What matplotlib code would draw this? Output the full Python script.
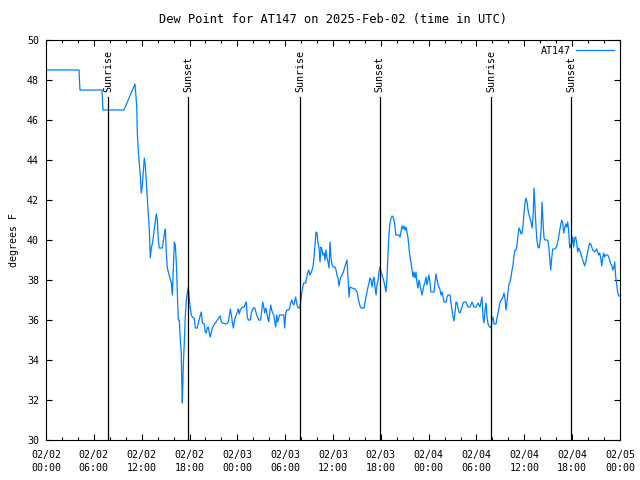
import numpy as np
import matplotlib
matplotlib.use("Agg")
import matplotlib.pyplot as plt
from matplotlib.ticker import MultipleLocator

# hours since 2025-02-02 00:00 UTC
hours = [0.0, 4.14, 4.26, 7.02, 7.15, 9.78, 11.16, 11.38, 11.45, 11.58, 11.70, 11.83,
         11.95, 12.08, 12.33, 12.46, 12.58, 12.71, 12.83, 12.96, 13.08, 13.21, 13.33,
         13.46, 13.58, 13.84, 13.96, 14.09, 14.21, 14.59, 14.84, 14.97, 15.09, 15.22,
         15.47, 15.72, 15.84, 15.97, 16.10, 16.22, 16.35, 16.47, 16.60, 16.72, 16.85,
         16.97, 17.03, 17.10, 17.22, 17.35, 17.47, 17.60, 17.72, 17.85, 17.98, 18.10,
         18.23, 18.35, 18.60, 18.73, 18.98, 19.10, 19.36, 19.48, 19.61, 19.86, 19.98,
         20.11, 20.23, 20.36, 20.48, 20.61, 20.74, 20.86, 20.99, 21.24, 21.49, 21.74,
         21.86, 21.99, 22.12, 22.62, 22.87, 23.00, 23.12, 23.25, 23.37, 23.50, 23.62,
         23.75, 23.87, 24.00, 24.12, 24.25, 24.37, 24.62, 24.88, 25.00, 25.13, 25.25,
         25.38, 25.63, 25.75, 26.00, 26.18, 26.43, 26.68, 26.93, 27.18, 27.31, 27.43,
         27.56, 27.68, 27.81, 27.94, 28.06, 28.19, 28.31, 28.44, 28.56, 28.81, 28.94,
         29.06, 29.19, 29.31, 29.82, 29.94, 30.07, 30.19, 30.44, 30.57, 30.69, 30.82,
         30.94, 31.07, 31.19, 31.32, 31.44, 31.57, 31.70, 31.82, 31.95, 32.07, 32.20,
         32.32, 32.57, 32.70, 32.82, 32.95, 33.12, 33.24, 33.37, 33.49, 33.62, 33.74,
         33.87, 33.99, 34.12, 34.25, 34.37, 34.50, 34.62, 34.75, 34.87, 35.00, 35.12,
         35.25, 35.37, 35.50, 35.62, 35.75, 35.88, 36.00, 36.25, 36.38, 36.50, 36.63,
         36.75, 36.88, 37.00, 37.13, 37.26, 37.38, 37.51, 37.63, 37.76, 37.88, 38.01,
         38.13, 38.38, 38.76, 39.01, 39.14, 39.26, 39.39, 39.51, 39.89, 40.02, 40.14,
         40.27, 40.39, 40.52, 40.64, 40.77, 40.89, 41.02, 41.14, 41.27, 41.40, 41.52,
         41.65, 41.77, 41.90, 42.02, 42.15, 42.27, 42.40, 42.52, 42.65, 42.77, 42.90,
         43.03, 43.15, 43.28, 43.40, 43.53, 43.65, 43.78, 43.90, 44.03, 44.28, 44.41,
         44.53, 44.66, 44.78, 44.91, 45.03, 45.16, 45.28, 45.41, 45.53, 45.66, 45.79,
         45.91, 46.04, 46.16, 46.29, 46.41, 46.54, 46.66, 46.79, 46.91, 47.04, 47.17,
         47.29, 47.42, 47.54, 47.67, 47.79, 47.92, 48.04, 48.17, 48.29, 48.67, 48.80,
         48.92, 49.05, 49.17, 49.30, 49.43, 49.55, 49.68, 49.80, 49.93, 50.18, 50.30,
         50.43, 50.68, 50.80, 50.93, 51.06, 51.18, 51.31, 51.43, 51.56, 51.68, 51.81,
         51.93, 52.06, 52.18, 52.31, 52.44, 52.69, 52.81, 52.94, 53.19, 53.44, 53.69,
         53.94, 54.19, 54.44, 54.57, 54.69, 54.82, 54.94, 55.07, 55.19, 55.32, 55.45,
         55.57, 55.70, 55.82, 55.95, 56.07, 56.20, 56.45, 56.57, 56.70, 56.83, 56.95,
         57.08, 57.20, 57.33, 57.45, 57.58, 57.70, 57.83, 57.95, 58.08, 58.21, 58.33,
         58.46, 58.58, 58.71, 58.83, 58.96, 59.08, 59.21, 59.33, 59.46, 59.59, 59.71,
         59.84, 59.96, 60.09, 60.21, 60.34, 60.46, 60.59, 60.71, 60.84, 60.97, 61.09,
         61.22, 61.34, 61.47, 61.59, 61.72, 61.84, 61.97, 62.10, 62.22, 62.35, 62.47,
         62.60, 62.85, 62.97, 63.10, 63.22, 63.31, 63.44, 63.56, 63.81, 63.94, 64.06,
         64.19, 64.31, 64.44, 64.56, 64.69, 64.82, 64.94, 65.07, 65.19, 65.32, 65.44,
         65.57, 65.69, 65.82, 65.94, 66.07, 66.19, 66.32, 66.44, 66.57, 66.69, 66.82,
         66.95, 67.07, 67.20, 67.32, 67.45, 67.57, 67.70, 67.82, 67.95, 68.07, 68.20,
         68.33, 68.45, 68.58, 68.83, 69.08, 69.20, 69.33, 69.45, 69.58, 69.71, 69.83,
         69.96, 70.08, 70.21, 70.46, 70.58, 70.71, 70.83, 70.96, 71.09, 71.21, 71.34,
         71.46, 71.59, 71.71, 71.84, 72.0]

dewpoint = [48.5, 48.5, 47.5, 47.5, 46.5, 46.5, 47.8, 46.7, 45.4, 44.4, 43.85, 43.25,
            42.35, 42.7, 44.1, 43.7, 42.9, 42.1, 41.3, 40.5, 39.1, 39.6, 39.8,
            40.15, 40.55, 41.3, 41.0, 40.0, 39.6, 39.6, 40.3, 40.55, 39.35, 38.6,
            38.2, 37.85, 37.25, 38.65, 39.9, 39.75, 38.85, 37.4, 36.0, 36.0, 35.0,
            34.35, 32.9, 31.85, 33.7, 34.9, 36.15, 37.0, 37.35, 37.65, 37.0, 36.6,
            36.25, 36.15, 36.1, 35.6, 35.6, 35.85, 36.25, 36.4, 35.85, 35.8, 35.4,
            35.35, 35.6, 35.65, 35.35, 35.15, 35.4, 35.6, 35.7, 35.85, 36.0, 36.15,
            36.2, 35.9, 35.85, 35.8, 35.9, 36.25, 36.55, 36.25, 35.9, 35.6, 35.9,
            36.15, 36.25, 36.4, 36.55, 36.3, 36.5, 36.65, 36.65, 36.8, 36.9, 36.15,
            36.0, 36.0, 36.35, 36.6, 36.6, 36.25, 36.0, 36.0, 36.9, 36.65, 36.35,
            36.6, 36.4, 36.1, 35.9, 36.35, 36.75, 36.5, 36.35, 36.25, 35.65, 36.25,
            35.9, 36.1, 36.25, 36.25, 35.6, 36.35, 36.5, 36.5, 36.6, 36.85, 37.0,
            36.85, 36.75, 36.9, 37.15, 36.85, 36.65, 36.6, 36.6, 36.9, 37.35, 37.6,
            37.85, 37.85, 38.1, 38.35, 38.5, 38.25, 38.35, 38.5, 38.65, 39.15, 39.75,
            40.4, 40.35, 39.85, 39.6, 38.9, 39.65, 39.5, 39.25, 39.35, 39.0, 39.5,
            39.1, 38.9, 38.6, 39.9, 39.1, 38.75, 38.65, 38.65, 38.5, 38.25, 38.1,
            37.7, 38.0, 38.15, 38.25, 38.35, 38.5, 38.7, 38.85, 39.0, 38.15, 37.15,
            37.65, 37.6, 37.55, 37.4, 37.15, 36.9, 36.7, 36.6, 36.6, 36.9, 37.15,
            37.4, 37.65, 37.85, 38.1, 38.0, 37.65, 38.0, 38.15, 37.65, 37.25, 37.75,
            38.0, 38.4, 38.65, 38.4, 38.25, 38.1, 37.9, 37.65, 37.4, 38.1, 39.35,
            40.35, 40.85, 41.1, 41.2, 41.15, 41.0, 40.65, 40.25, 40.25, 40.25, 40.15,
            40.4, 40.7, 40.55, 40.7, 40.5, 40.65, 40.4, 40.1, 39.6, 39.15, 38.85,
            38.5, 38.15, 38.4, 38.1, 38.4, 37.85, 37.6, 38.0, 37.75, 37.5, 37.25,
            37.5, 37.75, 37.9, 38.15, 37.75, 38.0, 38.25, 37.85, 37.4, 37.4, 37.9,
            38.3, 38.0, 37.75, 37.65, 37.5, 37.25, 37.4, 37.15, 36.9, 36.9, 37.15,
            37.25, 37.25, 36.85, 36.5, 36.15, 35.95, 36.4, 36.9, 36.85, 36.6, 36.4,
            36.35, 36.5, 36.65, 36.85, 36.9, 36.9, 36.75, 36.65, 36.65, 36.9, 36.65,
            36.65, 36.85, 36.65, 36.9, 37.15, 36.15, 35.85, 36.5, 36.85, 36.15, 35.8,
            35.7, 35.65, 35.6, 36.0, 36.15, 35.8, 35.8, 36.1, 36.35, 36.65, 36.9,
            37.0, 37.05, 37.15, 37.35, 37.05, 36.5, 36.9, 37.4, 37.8, 37.9, 38.15,
            38.5, 38.75, 39.25, 39.5, 39.5, 39.75, 40.25, 40.6, 40.5, 40.3, 40.35,
            40.75, 41.35, 41.85, 42.1, 41.9, 41.5, 41.25, 41.1, 40.9, 40.6, 41.1,
            42.6, 41.65, 40.6, 39.95, 39.65, 39.6, 39.9, 40.5, 41.9, 40.85, 40.1,
            40.0, 40.0, 39.95, 39.5, 38.9, 38.5, 39.1, 39.55, 39.55, 39.6, 39.7,
            39.9, 40.15, 40.5, 40.75, 41.0, 40.85, 40.35, 40.6, 40.8, 40.65, 40.9,
            40.4, 39.6, 39.75, 39.85, 40.15, 39.65, 40.1, 40.15, 39.85, 39.4, 39.6,
            39.5, 39.35, 39.15, 39.0, 38.85, 38.7, 38.9, 39.15, 39.4, 39.65, 39.85,
            39.8, 39.65, 39.5, 39.4, 39.55, 39.4, 39.25, 39.35, 39.1, 38.7, 39.1,
            39.35, 39.15, 39.25, 39.25, 39.15, 39.0, 38.8, 38.75, 38.5, 38.6, 38.9,
            38.15, 37.75, 37.4, 37.2, 37.2]

sunrise = [7.78, 31.87, 55.82]
sunset = [17.82, 41.85, 65.9]

tick_hours = [0, 6, 12, 18, 24, 30, 36, 42, 48, 54, 60, 66, 72]
tick_labels = ['02/02\n00:00', '02/02\n06:00', '02/02\n12:00', '02/02\n18:00',
               '02/03\n00:00', '02/03\n06:00', '02/03\n12:00', '02/03\n18:00',
               '02/04\n00:00', '02/04\n06:00', '02/04\n12:00', '02/04\n18:00',
               '02/05\n00:00']

plt.rcParams['font.family'] = 'DejaVu Sans Mono'
plt.rcParams['font.size'] = 7.2

fig = plt.figure(figsize=(6.4, 4.8), dpi=100)
ax = fig.add_axes([46 / 640, 40 / 480, 574 / 640, 400 / 480])

ax.plot(hours, dewpoint, color='#0080ff', lw=0.9, label='AT147')

# sun lines stop below the rotated labels
for h in sunrise:
    ax.plot([h, h], [30, 47.15], color='black', lw=0.9)
    ax.text(h, 47.4, 'Sunrise', rotation=90, ha='center', va='bottom')
for h in sunset:
    ax.plot([h, h], [30, 47.15], color='black', lw=0.9)
    ax.text(h, 47.4, 'Sunset', rotation=90, ha='center', va='bottom')

ax.set_xlim(0, 72)
ax.set_ylim(30, 50)
ax.set_xticks(tick_hours)
ax.set_xticklabels(tick_labels, linespacing=1.4)
ax.xaxis.set_minor_locator(MultipleLocator(2))
ax.set_yticks(np.arange(30, 51, 2))
ax.tick_params(which='both', direction='in', top=True, right=True, width=0.8)
ax.tick_params(which='major', length=4, pad=5)
ax.tick_params(axis='x', which='major', pad=7)
ax.tick_params(which='minor', length=2.2)
for s in ax.spines.values():
    s.set_linewidth(0.8)

ax.set_ylabel('degrees F', labelpad=6)
ax.set_title('Dew Point for AT147 on 2025-Feb-02 (time in UTC)', pad=12)
ax.legend(loc='upper right', frameon=False, handlelength=3.8, handletextpad=0.5,
          borderaxespad=0.2, markerfirst=False)

fig.savefig('out.png', dpi=100)
